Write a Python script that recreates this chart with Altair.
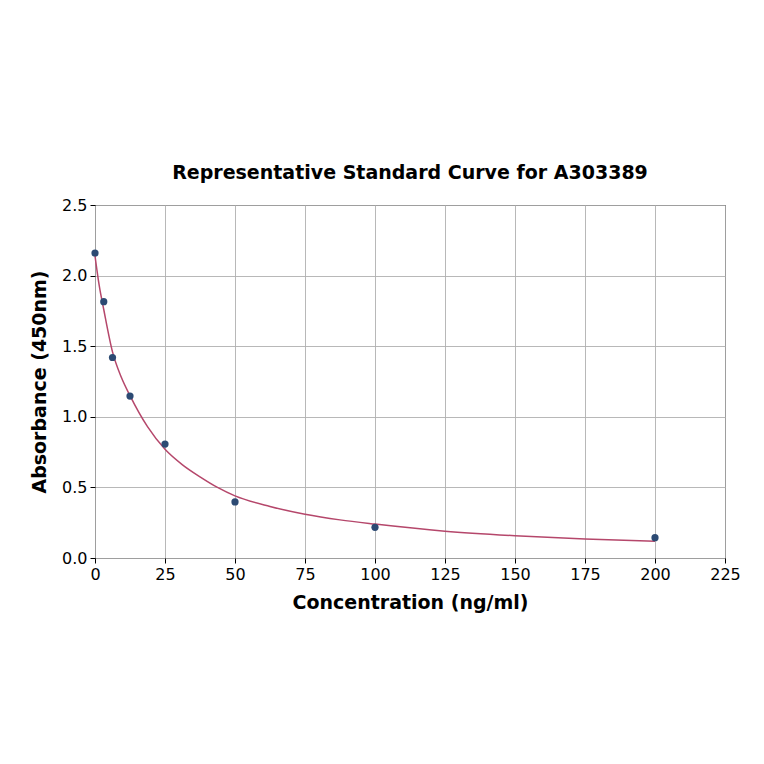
import altair as alt
import pandas as pd

# Standard points
conc = [0, 3.125, 6.25, 12.5, 25, 50, 100, 200]
absorb = [2.16, 1.815, 1.42, 1.147, 0.807, 0.397, 0.217, 0.144]

# Fitted curve
curve_x = [0, 1.5, 3.125, 6.25, 9.4, 12.5, 18.75, 25, 31.25, 37.5, 43.75, 50, 62.5, 75, 87.5, 100, 125, 150, 175, 200]
curve_y = [2.14, 1.93, 1.76, 1.46, 1.28, 1.15, 0.93, 0.77, 0.66, 0.575, 0.5, 0.44, 0.365, 0.31, 0.27, 0.24, 0.19, 0.158, 0.135, 0.118]

pts = pd.DataFrame({"x": conc, "y": absorb})
crv = pd.DataFrame({"x": curve_x, "y": curve_y})

FONT = "DejaVu Sans"

xs = alt.Scale(domain=[0, 225], nice=False, zero=False)
ys = alt.Scale(domain=[0, 2.5], nice=False, zero=False)

xax = alt.Axis(values=[0, 25, 50, 75, 100, 125, 150, 175, 200, 225], title="Concentration (ng/ml)",
               format="d", grid=True)
yax = alt.Axis(values=[0, 0.5, 1.0, 1.5, 2.0, 2.5], title="Absorbance (450nm)", format=".1f", grid=True)

line = alt.Chart(crv).mark_line(color="#b5476b", strokeWidth=1.5, interpolate="monotone").encode(
    x=alt.X("x:Q", scale=xs, axis=xax),
    y=alt.Y("y:Q", scale=ys, axis=yax),
)
dots = alt.Chart(pts).mark_circle(color="#2c4a73", size=52, opacity=1).encode(
    x=alt.X("x:Q", scale=xs),
    y=alt.Y("y:Q", scale=ys),
)

chart = alt.layer(line, dots).properties(
    width=630,
    height=353,
    autosize=alt.AutoSizeParams(type="none"),
    padding={"left": 87, "top": 197, "right": 31, "bottom": 191},
    title=alt.Title("Representative Standard Curve for A303389", font=FONT, fontSize=19,
                    fontWeight="bold", color="black", anchor="middle", offset=14),
).configure_view(
    stroke="black", strokeWidth=1
).configure_axis(
    labelFont=FONT, titleFont=FONT, labelFontSize=16, titleFontSize=19,
    titleFontWeight="bold", labelColor="black", titleColor="black",
    domain=False, tickColor="black", tickSize=5, tickWidth=1,
    gridColor="#b0b0b0", gridWidth=0.9, labelPadding=3, labelFlush=False,
).configure_axisX(titlePadding=11).configure_axisY(titlePadding=12)

chart.save("out.html", embed_options={"renderer": "svg", "actions": False})
